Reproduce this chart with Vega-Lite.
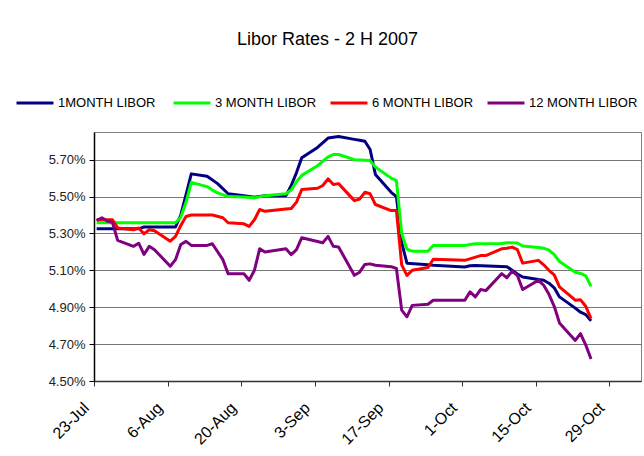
{
  "$schema": "https://vega.github.io/schema/vega-lite/v6.json",
  "width": 547,
  "height": 249,
  "autosize": {"type": "none"},
  "padding": {"left": 94, "top": 132, "right": 3, "bottom": 75},
  "background": "white",
  "title": {
    "text": "Libor Rates - 2 H 2007",
    "font": "Liberation Sans",
    "fontSize": 18,
    "fontWeight": "normal",
    "color": "black",
    "anchor": "middle",
    "frame": "group",
    "dx": -40,
    "offset": 20,
    "baseline": "alphabetic"
  },
  "config": {
    "view": {"stroke": "#808080", "strokeWidth": 1},
    "font": "Liberation Sans"
  },
  "datasets": {
    "rates": [
      {"d": "2007-07-23T12:00", "s": "1MONTH LIBOR", "v": 5.325},
      {"d": "2007-07-31T12:00", "s": "1MONTH LIBOR", "v": 5.325},
      {"d": "2007-08-01T12:00", "s": "1MONTH LIBOR", "v": 5.335},
      {"d": "2007-08-07T12:00", "s": "1MONTH LIBOR", "v": 5.335},
      {"d": "2007-08-08T12:00", "s": "1MONTH LIBOR", "v": 5.40},
      {"d": "2007-08-09T12:00", "s": "1MONTH LIBOR", "v": 5.51},
      {"d": "2007-08-10T12:00", "s": "1MONTH LIBOR", "v": 5.623},
      {"d": "2007-08-13T12:00", "s": "1MONTH LIBOR", "v": 5.61},
      {"d": "2007-08-15T12:00", "s": "1MONTH LIBOR", "v": 5.57},
      {"d": "2007-08-17T12:00", "s": "1MONTH LIBOR", "v": 5.515},
      {"d": "2007-08-20T12:00", "s": "1MONTH LIBOR", "v": 5.505},
      {"d": "2007-08-22T12:00", "s": "1MONTH LIBOR", "v": 5.496},
      {"d": "2007-08-24T12:00", "s": "1MONTH LIBOR", "v": 5.505},
      {"d": "2007-08-28T12:00", "s": "1MONTH LIBOR", "v": 5.505},
      {"d": "2007-08-29T12:00", "s": "1MONTH LIBOR", "v": 5.56},
      {"d": "2007-08-30T12:00", "s": "1MONTH LIBOR", "v": 5.63},
      {"d": "2007-08-31T12:00", "s": "1MONTH LIBOR", "v": 5.71},
      {"d": "2007-09-03T12:00", "s": "1MONTH LIBOR", "v": 5.766},
      {"d": "2007-09-05T12:00", "s": "1MONTH LIBOR", "v": 5.817},
      {"d": "2007-09-06T12:00", "s": "1MONTH LIBOR", "v": 5.822},
      {"d": "2007-09-07T12:00", "s": "1MONTH LIBOR", "v": 5.826},
      {"d": "2007-09-10T12:00", "s": "1MONTH LIBOR", "v": 5.81},
      {"d": "2007-09-11T12:00", "s": "1MONTH LIBOR", "v": 5.805},
      {"d": "2007-09-12T12:00", "s": "1MONTH LIBOR", "v": 5.80},
      {"d": "2007-09-13T12:00", "s": "1MONTH LIBOR", "v": 5.755},
      {"d": "2007-09-14T12:00", "s": "1MONTH LIBOR", "v": 5.62},
      {"d": "2007-09-17T12:00", "s": "1MONTH LIBOR", "v": 5.523},
      {"d": "2007-09-18T12:00", "s": "1MONTH LIBOR", "v": 5.50},
      {"d": "2007-09-19T12:00", "s": "1MONTH LIBOR", "v": 5.25},
      {"d": "2007-09-20T12:00", "s": "1MONTH LIBOR", "v": 5.139},
      {"d": "2007-09-24T12:00", "s": "1MONTH LIBOR", "v": 5.13},
      {"d": "2007-09-25T12:00", "s": "1MONTH LIBOR", "v": 5.127},
      {"d": "2007-10-01T12:00", "s": "1MONTH LIBOR", "v": 5.118},
      {"d": "2007-10-02T12:00", "s": "1MONTH LIBOR", "v": 5.125},
      {"d": "2007-10-03T12:00", "s": "1MONTH LIBOR", "v": 5.126},
      {"d": "2007-10-09T12:00", "s": "1MONTH LIBOR", "v": 5.12},
      {"d": "2007-10-10T12:00", "s": "1MONTH LIBOR", "v": 5.10},
      {"d": "2007-10-11T12:00", "s": "1MONTH LIBOR", "v": 5.08},
      {"d": "2007-10-12T12:00", "s": "1MONTH LIBOR", "v": 5.064},
      {"d": "2007-10-15T12:00", "s": "1MONTH LIBOR", "v": 5.05},
      {"d": "2007-10-16T12:00", "s": "1MONTH LIBOR", "v": 5.046},
      {"d": "2007-10-17T12:00", "s": "1MONTH LIBOR", "v": 5.03},
      {"d": "2007-10-18T12:00", "s": "1MONTH LIBOR", "v": 5.005},
      {"d": "2007-10-19T12:00", "s": "1MONTH LIBOR", "v": 4.956},
      {"d": "2007-10-22T12:00", "s": "1MONTH LIBOR", "v": 4.895},
      {"d": "2007-10-23T12:00", "s": "1MONTH LIBOR", "v": 4.873},
      {"d": "2007-10-24T12:00", "s": "1MONTH LIBOR", "v": 4.86},
      {"d": "2007-10-25T12:00", "s": "1MONTH LIBOR", "v": 4.826},

      {"d": "2007-07-23T12:00", "s": "3 MONTH LIBOR", "v": 5.358},
      {"d": "2007-08-07T12:00", "s": "3 MONTH LIBOR", "v": 5.358},
      {"d": "2007-08-08T12:00", "s": "3 MONTH LIBOR", "v": 5.388},
      {"d": "2007-08-09T12:00", "s": "3 MONTH LIBOR", "v": 5.47},
      {"d": "2007-08-10T12:00", "s": "3 MONTH LIBOR", "v": 5.577},
      {"d": "2007-08-13T12:00", "s": "3 MONTH LIBOR", "v": 5.554},
      {"d": "2007-08-14T12:00", "s": "3 MONTH LIBOR", "v": 5.535},
      {"d": "2007-08-15T12:00", "s": "3 MONTH LIBOR", "v": 5.52},
      {"d": "2007-08-17T12:00", "s": "3 MONTH LIBOR", "v": 5.50},
      {"d": "2007-08-20T12:00", "s": "3 MONTH LIBOR", "v": 5.497},
      {"d": "2007-08-22T12:00", "s": "3 MONTH LIBOR", "v": 5.493},
      {"d": "2007-08-24T12:00", "s": "3 MONTH LIBOR", "v": 5.505},
      {"d": "2007-08-28T12:00", "s": "3 MONTH LIBOR", "v": 5.515},
      {"d": "2007-08-29T12:00", "s": "3 MONTH LIBOR", "v": 5.535},
      {"d": "2007-08-30T12:00", "s": "3 MONTH LIBOR", "v": 5.58},
      {"d": "2007-08-31T12:00", "s": "3 MONTH LIBOR", "v": 5.615},
      {"d": "2007-09-03T12:00", "s": "3 MONTH LIBOR", "v": 5.667},
      {"d": "2007-09-05T12:00", "s": "3 MONTH LIBOR", "v": 5.715},
      {"d": "2007-09-06T12:00", "s": "3 MONTH LIBOR", "v": 5.728},
      {"d": "2007-09-07T12:00", "s": "3 MONTH LIBOR", "v": 5.728},
      {"d": "2007-09-10T12:00", "s": "3 MONTH LIBOR", "v": 5.70},
      {"d": "2007-09-13T12:00", "s": "3 MONTH LIBOR", "v": 5.695},
      {"d": "2007-09-14T12:00", "s": "3 MONTH LIBOR", "v": 5.66},
      {"d": "2007-09-17T12:00", "s": "3 MONTH LIBOR", "v": 5.60},
      {"d": "2007-09-18T12:00", "s": "3 MONTH LIBOR", "v": 5.586},
      {"d": "2007-09-19T12:00", "s": "3 MONTH LIBOR", "v": 5.30},
      {"d": "2007-09-20T12:00", "s": "3 MONTH LIBOR", "v": 5.215},
      {"d": "2007-09-21T12:00", "s": "3 MONTH LIBOR", "v": 5.204},
      {"d": "2007-09-24T12:00", "s": "3 MONTH LIBOR", "v": 5.204},
      {"d": "2007-09-25T12:00", "s": "3 MONTH LIBOR", "v": 5.235},
      {"d": "2007-10-01T12:00", "s": "3 MONTH LIBOR", "v": 5.235},
      {"d": "2007-10-02T12:00", "s": "3 MONTH LIBOR", "v": 5.24},
      {"d": "2007-10-03T12:00", "s": "3 MONTH LIBOR", "v": 5.244},
      {"d": "2007-10-08T12:00", "s": "3 MONTH LIBOR", "v": 5.246},
      {"d": "2007-10-09T12:00", "s": "3 MONTH LIBOR", "v": 5.25},
      {"d": "2007-10-11T12:00", "s": "3 MONTH LIBOR", "v": 5.248},
      {"d": "2007-10-12T12:00", "s": "3 MONTH LIBOR", "v": 5.232},
      {"d": "2007-10-15T12:00", "s": "3 MONTH LIBOR", "v": 5.224},
      {"d": "2007-10-16T12:00", "s": "3 MONTH LIBOR", "v": 5.22},
      {"d": "2007-10-17T12:00", "s": "3 MONTH LIBOR", "v": 5.21},
      {"d": "2007-10-18T12:00", "s": "3 MONTH LIBOR", "v": 5.185},
      {"d": "2007-10-19T12:00", "s": "3 MONTH LIBOR", "v": 5.148},
      {"d": "2007-10-22T12:00", "s": "3 MONTH LIBOR", "v": 5.09},
      {"d": "2007-10-23T12:00", "s": "3 MONTH LIBOR", "v": 5.083},
      {"d": "2007-10-24T12:00", "s": "3 MONTH LIBOR", "v": 5.07},
      {"d": "2007-10-25T12:00", "s": "3 MONTH LIBOR", "v": 5.013},

      {"d": "2007-07-23T12:00", "s": "6 MONTH LIBOR", "v": 5.374},
      {"d": "2007-07-26T12:00", "s": "6 MONTH LIBOR", "v": 5.374},
      {"d": "2007-07-27T12:00", "s": "6 MONTH LIBOR", "v": 5.33},
      {"d": "2007-07-30T12:00", "s": "6 MONTH LIBOR", "v": 5.32},
      {"d": "2007-07-31T12:00", "s": "6 MONTH LIBOR", "v": 5.33},
      {"d": "2007-08-01T12:00", "s": "6 MONTH LIBOR", "v": 5.298},
      {"d": "2007-08-02T12:00", "s": "6 MONTH LIBOR", "v": 5.32},
      {"d": "2007-08-03T12:00", "s": "6 MONTH LIBOR", "v": 5.315},
      {"d": "2007-08-06T12:00", "s": "6 MONTH LIBOR", "v": 5.258},
      {"d": "2007-08-07T12:00", "s": "6 MONTH LIBOR", "v": 5.284},
      {"d": "2007-08-08T12:00", "s": "6 MONTH LIBOR", "v": 5.343},
      {"d": "2007-08-09T12:00", "s": "6 MONTH LIBOR", "v": 5.392},
      {"d": "2007-08-10T12:00", "s": "6 MONTH LIBOR", "v": 5.40},
      {"d": "2007-08-14T12:00", "s": "6 MONTH LIBOR", "v": 5.40},
      {"d": "2007-08-16T12:00", "s": "6 MONTH LIBOR", "v": 5.385},
      {"d": "2007-08-17T12:00", "s": "6 MONTH LIBOR", "v": 5.358},
      {"d": "2007-08-20T12:00", "s": "6 MONTH LIBOR", "v": 5.352},
      {"d": "2007-08-21T12:00", "s": "6 MONTH LIBOR", "v": 5.338},
      {"d": "2007-08-22T12:00", "s": "6 MONTH LIBOR", "v": 5.374},
      {"d": "2007-08-23T12:00", "s": "6 MONTH LIBOR", "v": 5.43},
      {"d": "2007-08-24T12:00", "s": "6 MONTH LIBOR", "v": 5.42},
      {"d": "2007-08-28T12:00", "s": "6 MONTH LIBOR", "v": 5.433},
      {"d": "2007-08-29T12:00", "s": "6 MONTH LIBOR", "v": 5.435},
      {"d": "2007-08-30T12:00", "s": "6 MONTH LIBOR", "v": 5.47},
      {"d": "2007-08-31T12:00", "s": "6 MONTH LIBOR", "v": 5.538},
      {"d": "2007-09-03T12:00", "s": "6 MONTH LIBOR", "v": 5.545},
      {"d": "2007-09-04T12:00", "s": "6 MONTH LIBOR", "v": 5.56},
      {"d": "2007-09-05T12:00", "s": "6 MONTH LIBOR", "v": 5.596},
      {"d": "2007-09-06T12:00", "s": "6 MONTH LIBOR", "v": 5.565},
      {"d": "2007-09-07T12:00", "s": "6 MONTH LIBOR", "v": 5.57},
      {"d": "2007-09-10T12:00", "s": "6 MONTH LIBOR", "v": 5.478},
      {"d": "2007-09-11T12:00", "s": "6 MONTH LIBOR", "v": 5.487},
      {"d": "2007-09-12T12:00", "s": "6 MONTH LIBOR", "v": 5.523},
      {"d": "2007-09-13T12:00", "s": "6 MONTH LIBOR", "v": 5.515},
      {"d": "2007-09-14T12:00", "s": "6 MONTH LIBOR", "v": 5.457},
      {"d": "2007-09-17T12:00", "s": "6 MONTH LIBOR", "v": 5.424},
      {"d": "2007-09-18T12:00", "s": "6 MONTH LIBOR", "v": 5.424},
      {"d": "2007-09-19T12:00", "s": "6 MONTH LIBOR", "v": 5.13},
      {"d": "2007-09-20T12:00", "s": "6 MONTH LIBOR", "v": 5.073},
      {"d": "2007-09-21T12:00", "s": "6 MONTH LIBOR", "v": 5.10},
      {"d": "2007-09-24T12:00", "s": "6 MONTH LIBOR", "v": 5.115},
      {"d": "2007-09-25T12:00", "s": "6 MONTH LIBOR", "v": 5.16},
      {"d": "2007-10-01T12:00", "s": "6 MONTH LIBOR", "v": 5.154},
      {"d": "2007-10-04T12:00", "s": "6 MONTH LIBOR", "v": 5.18},
      {"d": "2007-10-05T12:00", "s": "6 MONTH LIBOR", "v": 5.18},
      {"d": "2007-10-08T12:00", "s": "6 MONTH LIBOR", "v": 5.217},
      {"d": "2007-10-09T12:00", "s": "6 MONTH LIBOR", "v": 5.22},
      {"d": "2007-10-10T12:00", "s": "6 MONTH LIBOR", "v": 5.226},
      {"d": "2007-10-11T12:00", "s": "6 MONTH LIBOR", "v": 5.212},
      {"d": "2007-10-12T12:00", "s": "6 MONTH LIBOR", "v": 5.139},
      {"d": "2007-10-15T12:00", "s": "6 MONTH LIBOR", "v": 5.154},
      {"d": "2007-10-16T12:00", "s": "6 MONTH LIBOR", "v": 5.13},
      {"d": "2007-10-17T12:00", "s": "6 MONTH LIBOR", "v": 5.10},
      {"d": "2007-10-18T12:00", "s": "6 MONTH LIBOR", "v": 5.075},
      {"d": "2007-10-19T12:00", "s": "6 MONTH LIBOR", "v": 5.01},
      {"d": "2007-10-22T12:00", "s": "6 MONTH LIBOR", "v": 4.938},
      {"d": "2007-10-23T12:00", "s": "6 MONTH LIBOR", "v": 4.94},
      {"d": "2007-10-24T12:00", "s": "6 MONTH LIBOR", "v": 4.905},
      {"d": "2007-10-25T12:00", "s": "6 MONTH LIBOR", "v": 4.839},

      {"d": "2007-07-23T12:00", "s": "12 MONTH LIBOR", "v": 5.37},
      {"d": "2007-07-24T12:00", "s": "12 MONTH LIBOR", "v": 5.385},
      {"d": "2007-07-25T12:00", "s": "12 MONTH LIBOR", "v": 5.367},
      {"d": "2007-07-26T12:00", "s": "12 MONTH LIBOR", "v": 5.36},
      {"d": "2007-07-27T12:00", "s": "12 MONTH LIBOR", "v": 5.262},
      {"d": "2007-07-30T12:00", "s": "12 MONTH LIBOR", "v": 5.23},
      {"d": "2007-07-31T12:00", "s": "12 MONTH LIBOR", "v": 5.247},
      {"d": "2007-08-01T12:00", "s": "12 MONTH LIBOR", "v": 5.186},
      {"d": "2007-08-02T12:00", "s": "12 MONTH LIBOR", "v": 5.23},
      {"d": "2007-08-03T12:00", "s": "12 MONTH LIBOR", "v": 5.212},
      {"d": "2007-08-06T12:00", "s": "12 MONTH LIBOR", "v": 5.122},
      {"d": "2007-08-07T12:00", "s": "12 MONTH LIBOR", "v": 5.158},
      {"d": "2007-08-08T12:00", "s": "12 MONTH LIBOR", "v": 5.24},
      {"d": "2007-08-09T12:00", "s": "12 MONTH LIBOR", "v": 5.257},
      {"d": "2007-08-10T12:00", "s": "12 MONTH LIBOR", "v": 5.235},
      {"d": "2007-08-13T12:00", "s": "12 MONTH LIBOR", "v": 5.235},
      {"d": "2007-08-14T12:00", "s": "12 MONTH LIBOR", "v": 5.244},
      {"d": "2007-08-16T12:00", "s": "12 MONTH LIBOR", "v": 5.158},
      {"d": "2007-08-17T12:00", "s": "12 MONTH LIBOR", "v": 5.082},
      {"d": "2007-08-20T12:00", "s": "12 MONTH LIBOR", "v": 5.082},
      {"d": "2007-08-21T12:00", "s": "12 MONTH LIBOR", "v": 5.046},
      {"d": "2007-08-22T12:00", "s": "12 MONTH LIBOR", "v": 5.10},
      {"d": "2007-08-23T12:00", "s": "12 MONTH LIBOR", "v": 5.217},
      {"d": "2007-08-24T12:00", "s": "12 MONTH LIBOR", "v": 5.199},
      {"d": "2007-08-28T12:00", "s": "12 MONTH LIBOR", "v": 5.217},
      {"d": "2007-08-29T12:00", "s": "12 MONTH LIBOR", "v": 5.185},
      {"d": "2007-08-30T12:00", "s": "12 MONTH LIBOR", "v": 5.212},
      {"d": "2007-08-31T12:00", "s": "12 MONTH LIBOR", "v": 5.277},
      {"d": "2007-09-04T12:00", "s": "12 MONTH LIBOR", "v": 5.25},
      {"d": "2007-09-05T12:00", "s": "12 MONTH LIBOR", "v": 5.284},
      {"d": "2007-09-06T12:00", "s": "12 MONTH LIBOR", "v": 5.23},
      {"d": "2007-09-07T12:00", "s": "12 MONTH LIBOR", "v": 5.227},
      {"d": "2007-09-10T12:00", "s": "12 MONTH LIBOR", "v": 5.073},
      {"d": "2007-09-11T12:00", "s": "12 MONTH LIBOR", "v": 5.09},
      {"d": "2007-09-12T12:00", "s": "12 MONTH LIBOR", "v": 5.132},
      {"d": "2007-09-13T12:00", "s": "12 MONTH LIBOR", "v": 5.135},
      {"d": "2007-09-14T12:00", "s": "12 MONTH LIBOR", "v": 5.128},
      {"d": "2007-09-17T12:00", "s": "12 MONTH LIBOR", "v": 5.12},
      {"d": "2007-09-18T12:00", "s": "12 MONTH LIBOR", "v": 5.11},
      {"d": "2007-09-19T12:00", "s": "12 MONTH LIBOR", "v": 4.884},
      {"d": "2007-09-20T12:00", "s": "12 MONTH LIBOR", "v": 4.848},
      {"d": "2007-09-21T12:00", "s": "12 MONTH LIBOR", "v": 4.91},
      {"d": "2007-09-24T12:00", "s": "12 MONTH LIBOR", "v": 4.916},
      {"d": "2007-09-25T12:00", "s": "12 MONTH LIBOR", "v": 4.938},
      {"d": "2007-10-01T12:00", "s": "12 MONTH LIBOR", "v": 4.938},
      {"d": "2007-10-02T12:00", "s": "12 MONTH LIBOR", "v": 4.983},
      {"d": "2007-10-03T12:00", "s": "12 MONTH LIBOR", "v": 4.956},
      {"d": "2007-10-04T12:00", "s": "12 MONTH LIBOR", "v": 4.996},
      {"d": "2007-10-05T12:00", "s": "12 MONTH LIBOR", "v": 4.99},
      {"d": "2007-10-08T12:00", "s": "12 MONTH LIBOR", "v": 5.082},
      {"d": "2007-10-09T12:00", "s": "12 MONTH LIBOR", "v": 5.06},
      {"d": "2007-10-10T12:00", "s": "12 MONTH LIBOR", "v": 5.096},
      {"d": "2007-10-11T12:00", "s": "12 MONTH LIBOR", "v": 5.072},
      {"d": "2007-10-12T12:00", "s": "12 MONTH LIBOR", "v": 4.996},
      {"d": "2007-10-15T12:00", "s": "12 MONTH LIBOR", "v": 5.046},
      {"d": "2007-10-16T12:00", "s": "12 MONTH LIBOR", "v": 5.019},
      {"d": "2007-10-17T12:00", "s": "12 MONTH LIBOR", "v": 4.97},
      {"d": "2007-10-18T12:00", "s": "12 MONTH LIBOR", "v": 4.905},
      {"d": "2007-10-19T12:00", "s": "12 MONTH LIBOR", "v": 4.815},
      {"d": "2007-10-22T12:00", "s": "12 MONTH LIBOR", "v": 4.72},
      {"d": "2007-10-23T12:00", "s": "12 MONTH LIBOR", "v": 4.757},
      {"d": "2007-10-24T12:00", "s": "12 MONTH LIBOR", "v": 4.695},
      {"d": "2007-10-25T12:00", "s": "12 MONTH LIBOR", "v": 4.619}
    ]
  },
  "data": {"name": "rates"},
  "mark": {"type": "line", "strokeWidth": 3, "strokeJoin": "round", "clip": true},
  "encoding": {
    "x": {
      "field": "d",
      "type": "temporal",
      "scale": {
        "domain": [
          {"year": 2007, "month": 7, "date": 23},
          {"year": 2007, "month": 11, "date": 4}
        ],
        "nice": false
      },
      "axis": {
        "title": null,
        "values": [
          {"year": 2007, "month": 7, "date": 23},
          {"year": 2007, "month": 8, "date": 6},
          {"year": 2007, "month": 8, "date": 20},
          {"year": 2007, "month": 9, "date": 3},
          {"year": 2007, "month": 9, "date": 17},
          {"year": 2007, "month": 10, "date": 1},
          {"year": 2007, "month": 10, "date": 15},
          {"year": 2007, "month": 10, "date": 29}
        ],
        "format": "%-d-%b",
        "labelAngle": -45,
        "labelAlign": "right",
        "labelBaseline": "middle",
        "labelPadding": 19,
        "labelOffset": -8,
        "labelFont": "Liberation Sans",
        "labelFontSize": 16,
        "labelColor": "black",
        "labelOverlap": false,
        "labelFlush": false,
        "grid": false,
        "tickSize": 5,
        "tickColor": "#333333",
        "domainColor": "#333333",
        "domainWidth": 1.5
      }
    },
    "y": {
      "field": "v",
      "type": "quantitative",
      "scale": {"domain": [4.5, 5.85], "nice": false, "zero": false},
      "axis": {
        "title": null,
        "values": [4.5, 4.7, 4.9, 5.1, 5.3, 5.5, 5.7],
        "labelExpr": "format(datum.value, '.2f') + '%'",
        "labelFont": "Liberation Sans",
        "labelFontSize": 13,
        "labelColor": "#222222",
        "labelPadding": 4,
        "tickSize": 5,
        "tickColor": "black",
        "domainColor": "black",
        "domainWidth": 1.5,
        "grid": true,
        "gridColor": "#777777",
        "gridWidth": 1
      }
    },
    "color": {
      "field": "s",
      "type": "nominal",
      "scale": {
        "domain": ["1MONTH LIBOR", "3 MONTH LIBOR", "6 MONTH LIBOR", "12 MONTH LIBOR"],
        "range": ["#000080", "#00ff00", "#ff0000", "#800080"]
      },
      "legend": {
        "title": null,
        "orient": "none",
        "legendX": -79,
        "legendY": -49,
        "direction": "horizontal",
        "gridAlign": "all",
        "symbolType": "stroke",
        "symbolSize": 1369,
        "symbolStrokeWidth": 3,
        "labelFont": "Liberation Sans",
        "labelFontSize": 13,
        "labelColor": "black",
        "labelOffset": 3,
        "columnPadding": 0,
        "labelLimit": 200
      }
    }
  }
}
